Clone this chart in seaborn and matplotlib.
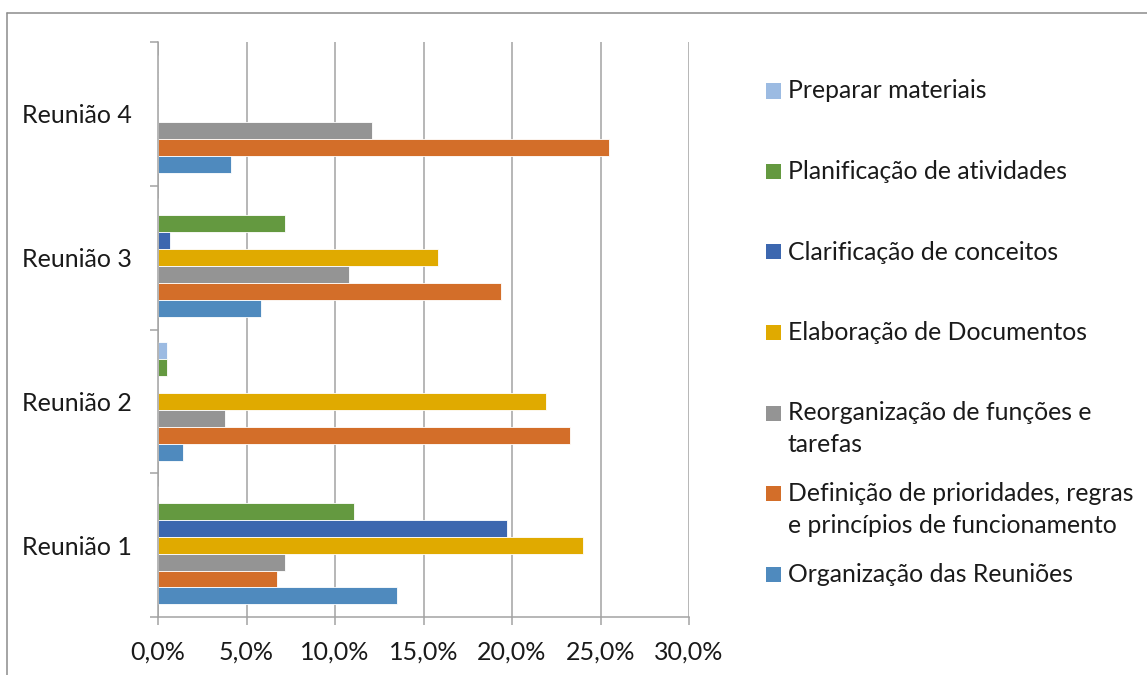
import pandas as pd
import numpy as np
import matplotlib
matplotlib.use('Agg')
import matplotlib.pyplot as plt
from matplotlib.ticker import FuncFormatter, FixedLocator
from matplotlib.lines import Line2D
from matplotlib.patches import Rectangle
import seaborn as sns

# Data (percent), one list per series, in order Reunião 1..4
reunioes = ['Reunião 1', 'Reunião 2', 'Reunião 3', 'Reunião 4']
organizacao = [13.5, 1.4, 5.8, 4.1]
definicao = [6.7, 23.3, 19.4, 25.5]
reorganizacao = [7.2, 3.8, 10.8, 12.1]
elaboracao = [24.0, 21.9, 15.8, 0.0]
clarificacao = [19.7, 0.0, 0.7, 0.0]
planificacao = [11.1, 0.5, 7.2, 0.0]
preparar = [0.0, 0.5, 0.0, 0.0]

# series listed top -> bottom (as in the legend)
series_names = ['Preparar materiais',
                'Planificação de atividades',
                'Clarificação de conceitos',
                'Elaboração de Documentos',
                'Reorganização de funções e\ntarefas',
                'Definição de prioridades, regras\ne princípios de funcionamento',
                'Organização das Reuniões']
series_values = [preparar, planificacao, clarificacao, elaboracao,
                 reorganizacao, definicao, organizacao]
colors = ['#9CBBE2', '#649940', '#3C67AF', '#E0AA00', '#949494', '#D36E29', '#4F8ABE']
xticks = [0, 5, 10, 15, 20, 25, 30]

rows = []
for name, vals in zip(series_names, series_values):
    for r, v in zip(reunioes, vals):
        rows.append({'reuniao': r, 'serie': name, 'valor': v / 100})
df = pd.DataFrame(rows)

sns.set_style('white')
plt.rcParams['font.family'] = ['Lato', 'DejaVu Sans']
FS = 18
LFS = 17.8
TXT = '#1a1a1a'
GRID = '#a3a3a3'

W, H = 1147, 675
fig = plt.figure(figsize=(W / 100, H / 100), dpi=100)
ax = fig.add_axes([158 / W, 1 - 617 / H, 531 / W, 575 / H])

sns.barplot(data=df, x='valor', y='reuniao', hue='serie',
            order=reunioes[::-1], hue_order=series_names,
            palette=colors, width=0.825, orient='h', ax=ax,
            legend=False, edgecolor='white', linewidth=0.6, saturation=1)

ax.set_xlim(0, 0.30)
ax.set_ylim(3.5, -0.5)
ax.xaxis.set_major_locator(FixedLocator([t / 100 for t in xticks]))
ax.xaxis.set_major_formatter(FuncFormatter(lambda v, p: f'{v * 100:.1f}%'.replace('.', ',')))
ax.set_xlabel('')
ax.set_ylabel('')
ax.grid(axis='x', color=GRID, linewidth=1.1)
ax.grid(axis='y', visible=False)
ax.set_axisbelow(True)

for s in ['top', 'right']:
    ax.spines[s].set_visible(False)
for s in ['left', 'bottom']:
    ax.spines[s].set_color(GRID)
    ax.spines[s].set_linewidth(1.1)

ax.tick_params(axis='x', length=6, width=1.1, color=GRID, labelsize=FS,
               labelcolor=TXT, pad=11, direction='out', bottom=True)
ax.tick_params(axis='y', which='major', length=0, labelsize=FS, labelcolor=TXT, pad=19, left=True)
ax.yaxis.set_minor_locator(FixedLocator([-0.5, 0.5, 1.5, 2.5, 3.5]))
ax.tick_params(axis='y', which='minor', length=6, width=1.1, color=GRID, direction='out', left=True)

# legend drawn on the figure, entries evenly spaced
def fx(px):
    return px / W

def fy(py):
    return 1 - py / H

y0, step, line_h = 91, 80.5, 32
for i, (name, col) in enumerate(zip(series_names, colors)):
    yc = y0 + i * step
    fig.add_artist(Rectangle((fx(766), fy(yc + 7.5)), 15 / W, 15 / H,
                             transform=fig.transFigure, facecolor=col, edgecolor='none'))
    for j, line in enumerate(name.split('\n')):
        fig.text(fx(788), fy(yc + j * line_h), line, fontsize=LFS, color=TXT,
                 va='center', ha='left')

# outer chart frame (top and left visible)
frame = dict(color='#8c8c8c', linewidth=1.1, transform=fig.transFigure)
fig.add_artist(Line2D([fx(7.5), 1.0], [fy(12.5), fy(12.5)], **frame))
fig.add_artist(Line2D([fx(7.5), fx(7.5)], [fy(12.5), 0.0], **frame))

plt.savefig('out.png', dpi=100)
plt.close()
